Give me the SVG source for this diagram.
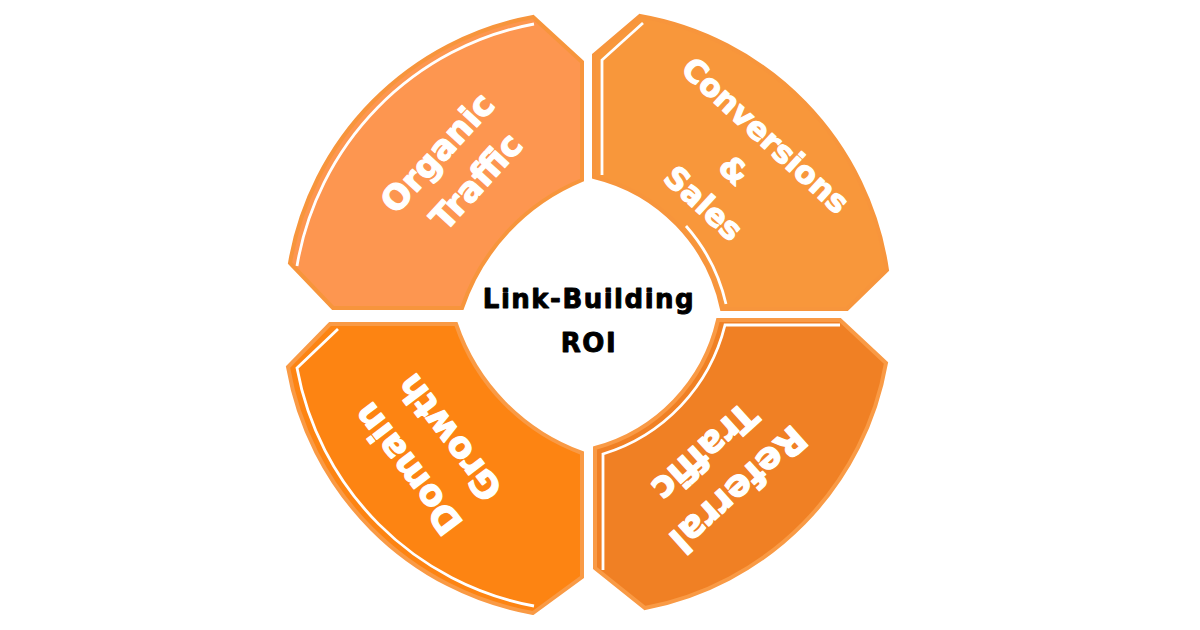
<svg xmlns="http://www.w3.org/2000/svg" width="1200" height="630" viewBox="0 0 1200 630">
  <style>
    .seg { stroke-width: 4; stroke-linejoin: miter; }
    .wl { fill: none; stroke: #FFFFFF; stroke-width: 2.8; stroke-linejoin: miter; }
    .lbl { font-family: "DejaVu Sans", "Liberation Sans", sans-serif; font-weight: bold; fill: #FFFFFF; stroke: #FFFFFF; stroke-width: 1.2; stroke-linejoin: round; text-anchor: middle; }
    .ctr { font-family: "DejaVu Sans", "Liberation Sans", sans-serif; font-weight: bold; fill: #000000; stroke: #000000; stroke-width: 0.9; stroke-linejoin: round; text-anchor: middle; font-size: 26px; letter-spacing: 1.5px; }
  </style>
  <rect x="0" y="0" width="1200" height="630" fill="#FFFFFF"/>

  <g id="organic-traffic">
    <path class="seg" fill="#FD9650" stroke="#F7953C" d="M290,263 A302,302 0 0 1 533,17 L582,62 L582,180 A212,212 0 0 0 462,308 L333,308 Z"/>
    <path class="wl" d="M297,266 A296,296 0 0 1 534,24"/>
    <g transform="translate(457,168) rotate(-47.5)">
      <text class="lbl" font-size="34" x="-2" y="-13">Organic</text>
      <text class="lbl" font-size="34" x="3" y="35">Traffic</text>
    </g>
  </g>

  <g id="conversions-sales">
    <path class="seg" fill="#F8973B" stroke="#F7953C" d="M594,55 L640,16 A302,302 0 0 1 887,270 L847,309 L722,309 A172,172 0 0 0 594,177 Z"/>
    <path class="wl" d="M602,175 L602,60 L643,23"/>
    <path class="wl" stroke-width="1.8" d="M686,226 A178,178 0 0 1 726,304"/>
    <g transform="translate(734,170) rotate(42.5)">
      <text class="lbl" font-size="31" x="0" y="-36">Conversions</text>
      <text class="lbl" font-size="31" x="0" y="11">&amp;</text>
      <text class="lbl" font-size="31" x="0" y="56">Sales</text>
    </g>
  </g>

  <g id="domain-growth">
    <path class="seg" fill="#FD8412" stroke="#F99A45" d="M330,324 L456,324 A208,208 0 0 0 582,453 L582,577 L533,613 A302,302 0 0 1 288,367 Z"/>
    <path class="wl" d="M338,329 L297,368 A296,296 0 0 0 534,606"/>
    <g transform="translate(429,453) rotate(-127)">
      <text class="lbl" font-size="36" x="0" y="-14">Domain</text>
      <text class="lbl" font-size="36" x="0" y="38">Growth</text>
    </g>
  </g>

  <g id="referral-traffic">
    <path class="seg" fill="#F08024" stroke="#F99A45" d="M718,320 L840,320 L886,363 A302,302 0 0 1 645,608 L595,568 L595,448 A172,172 0 0 0 718,320 Z"/>
    <path class="wl" d="M840,325 L725,325 A180,180 0 0 1 603,454 L603,570"/>
    <g transform="translate(721,470) rotate(138)">
      <text class="lbl" font-size="37" x="0" y="-13">Referral</text>
      <text class="lbl" font-size="37" x="0" y="37">Traffic</text>
    </g>
  </g>

  <g id="center">
    <text class="ctr" x="589" y="308">Link-Building</text>
    <text class="ctr" x="589" y="352">ROI</text>
  </g>

  <g id="connectors"></g>
</svg>
